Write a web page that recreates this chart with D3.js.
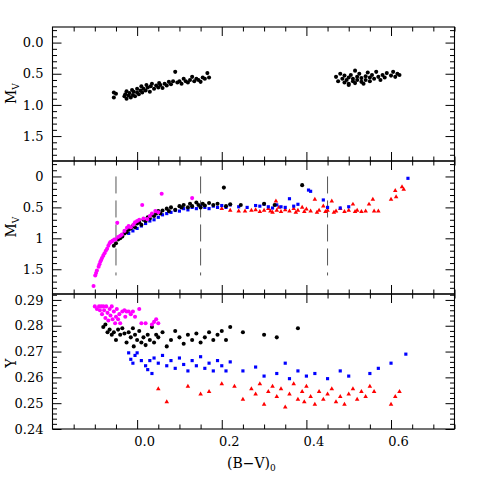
<!DOCTYPE html>
<html><head><meta charset="utf-8">
<script src="https://cdn.jsdelivr.net/npm/d3@7"></script>
<style>body{margin:0;background:#fff}svg{display:block}</style>
</head><body><svg id="c" width="480" height="480"></svg>
<script>
// ---- data ----
const topBlack = [[-0.055,0.80],[-0.055,0.88],[-0.05,0.82],[-0.03,0.86],[-0.028,0.83],[-0.025,0.90],[-0.025,0.78],[-0.02,0.85],[-0.018,0.81],[-0.015,0.88],[-0.012,0.76],[-0.01,0.84],[-0.008,0.79],[-0.005,0.86],[0.0,0.80],[0.0,0.74],[0.004,0.83],[0.008,0.77],[0.01,0.70],[0.012,0.80],[0.015,0.74],[0.02,0.77],[0.022,0.68],[0.025,0.72],[0.03,0.79],[0.032,0.70],[0.035,0.66],[0.04,0.74],[0.045,0.69],[0.05,0.72],[0.052,0.65],[0.055,0.68],[0.06,0.73],[0.065,0.66],[0.07,0.69],[0.075,0.63],[0.08,0.67],[0.085,0.62],[0.09,0.47],[0.095,0.64],[0.1,0.62],[0.105,0.66],[0.11,0.58],[0.115,0.62],[0.12,0.64],[0.125,0.60],[0.13,0.55],[0.135,0.62],[0.14,0.58],[0.145,0.60],[0.15,0.63],[0.155,0.56],[0.16,0.58],[0.166,0.49],[0.17,0.56]];
const topBlackRight = [[0.47,0.55],[0.475,0.62],[0.48,0.50],[0.485,0.58],[0.49,0.64],[0.49,0.53],[0.495,0.60],[0.50,0.56],[0.50,0.66],[0.505,0.52],[0.51,0.62],[0.51,0.58],[0.515,0.65],[0.52,0.55],[0.52,0.60],[0.525,0.50],[0.53,0.63],[0.53,0.57],[0.535,0.66],[0.54,0.54],[0.54,0.60],[0.545,0.48],[0.55,0.62],[0.55,0.56],[0.555,0.52],[0.56,0.58],[0.565,0.47],[0.57,0.55],[0.575,0.60],[0.58,0.52],[0.585,0.56],[0.59,0.49],[0.60,0.53],[0.605,0.47],[0.61,0.55],[0.615,0.50],[0.62,0.52],[0.50,0.68],[0.515,0.45]];

const midMagenta = [[-0.103,1.77],[-0.099,1.60],[-0.097,1.56],[-0.095,1.52],[-0.091,1.46],[-0.089,1.42],[-0.087,1.38],[-0.085,1.35],[-0.083,1.32],[-0.08,1.28],[-0.077,1.24],[-0.074,1.20],[-0.071,1.17],[-0.068,1.12],[-0.065,1.08],[-0.063,1.06],[-0.06,1.05],[-0.058,1.04],[-0.054,1.02],[-0.051,1.02],[-0.047,0.75],[-0.045,0.98],[-0.04,0.96],[-0.036,0.94],[-0.03,0.88],[-0.024,0.83],[-0.02,0.80],[-0.015,0.82],[-0.009,0.78],[-0.005,0.74],[0.0,0.72],[0.005,0.70],[0.012,0.46],[0.015,0.68],[0.024,0.69],[0.03,0.64],[0.035,0.60],[0.043,0.56],[0.05,0.58],[0.058,0.28],[0.13,0.35]];
const midBlack = [[-0.055,1.12],[-0.05,1.08],[-0.045,1.02],[-0.04,1.0],[-0.035,0.97],[-0.03,0.92],[-0.025,0.9],[-0.02,0.86],[-0.015,0.84],[-0.01,0.8],[-0.005,0.82],[0.0,0.76],[0.005,0.74],[0.01,0.78],[0.015,0.7],[0.02,0.72],[0.025,0.66],[0.03,0.68],[0.035,0.62],[0.04,0.64],[0.045,0.6],[0.05,0.56],[0.055,0.6],[0.06,0.55],[0.07,0.52],[0.075,0.56],[0.08,0.5],[0.09,0.54],[0.1,0.48],[0.105,0.5],[0.11,0.46],[0.12,0.5],[0.125,0.44],[0.13,0.48],[0.14,0.42],[0.145,0.46],[0.15,0.5],[0.155,0.44],[0.16,0.47],[0.17,0.43],[0.18,0.46],[0.19,0.44],[0.205,0.18],[0.21,0.48],[0.22,0.45],[0.245,0.46],[0.30,0.44],[0.325,0.46],[0.39,0.14]];
const midBlue = [[-0.02,0.92],[-0.01,0.88],[0.0,0.84],[0.01,0.8],[0.02,0.76],[0.03,0.72],[0.04,0.7],[0.05,0.66],[0.06,0.62],[0.07,0.6],[0.08,0.58],[0.09,0.55],[0.1,0.56],[0.11,0.52],[0.12,0.54],[0.13,0.5],[0.14,0.52],[0.15,0.48],[0.16,0.5],[0.17,0.52],[0.18,0.48],[0.19,0.5],[0.2,0.47],[0.21,0.5],[0.22,0.46],[0.24,0.49],[0.26,0.5],[0.28,0.47],[0.29,0.48],[0.30,0.45],[0.31,0.49],[0.32,0.51],[0.33,0.46],[0.34,0.49],[0.35,0.50],[0.36,0.36],[0.37,0.48],[0.38,0.45],[0.405,0.22],[0.41,0.24],[0.44,0.38],[0.45,0.50],[0.48,0.51],[0.50,0.49],[0.64,0.03]];
const midRed = [[0.2,0.52],[0.22,0.55],[0.24,0.56],[0.255,0.56],[0.27,0.55],[0.28,0.54],[0.29,0.57],[0.30,0.55],[0.31,0.52],[0.315,0.56],[0.32,0.58],[0.328,0.40],[0.33,0.55],[0.335,0.5],[0.34,0.57],[0.35,0.54],[0.36,0.56],[0.37,0.52],[0.375,0.58],[0.38,0.55],[0.39,0.5],[0.395,0.57],[0.40,0.53],[0.41,0.56],[0.42,0.37],[0.425,0.58],[0.43,0.55],[0.44,0.48],[0.445,0.57],[0.45,0.55],[0.46,0.40],[0.465,0.58],[0.47,0.56],[0.48,0.52],[0.49,0.57],[0.50,0.55],[0.51,0.45],[0.515,0.57],[0.52,0.55],[0.53,0.57],[0.54,0.56],[0.548,0.45],[0.557,0.37],[0.56,0.56],[0.57,0.56],[0.60,0.37],[0.61,0.23],[0.612,0.33],[0.626,0.17],[0.63,0.21]];

const botMagenta = [[-0.10,0.2875],[-0.095,0.2865],[-0.09,0.2875],[-0.088,0.286],[-0.085,0.2875],[-0.083,0.2845],[-0.08,0.2875],[-0.078,0.286],[-0.075,0.283],[-0.073,0.2875],[-0.07,0.285],[-0.068,0.282],[-0.065,0.2865],[-0.063,0.284],[-0.06,0.2875],[-0.058,0.2825],[-0.055,0.2855],[-0.052,0.281],[-0.05,0.2835],[-0.048,0.2865],[-0.045,0.2825],[-0.042,0.2845],[-0.04,0.281],[-0.035,0.2855],[-0.03,0.286],[-0.028,0.2835],[-0.025,0.2855],[-0.02,0.2855],[-0.015,0.2845],[-0.01,0.2855],[-0.005,0.2835],[0.005,0.2865],[0.01,0.281],[0.02,0.281],[0.035,0.2805],[0.04,0.2815],[0.045,0.2825],[0.05,0.281]];
const botBlack = [[-0.08,0.2795],[-0.075,0.2805],[-0.07,0.2775],[-0.065,0.2785],[-0.06,0.2765],[-0.055,0.2775],[-0.05,0.2745],[-0.045,0.2785],[-0.04,0.2765],[-0.035,0.279],[-0.03,0.277],[-0.025,0.2735],[-0.02,0.2775],[-0.015,0.2755],[-0.01,0.279],[-0.008,0.272],[-0.005,0.2765],[0.0,0.2745],[0.005,0.278],[0.01,0.2735],[0.015,0.2755],[0.02,0.2725],[0.025,0.2765],[0.03,0.2745],[0.035,0.2795],[0.04,0.2735],[0.045,0.2765],[0.05,0.2755],[0.06,0.2775],[0.07,0.272],[0.08,0.2745],[0.09,0.278],[0.1,0.2755],[0.11,0.273],[0.12,0.2765],[0.13,0.2745],[0.14,0.277],[0.15,0.2735],[0.16,0.2755],[0.17,0.2775],[0.18,0.2745],[0.19,0.2765],[0.2,0.278],[0.21,0.2745],[0.22,0.2795],[0.25,0.2775],[0.3,0.2765],[0.33,0.2755],[0.38,0.279]];
const botBlue = [[-0.02,0.2695],[-0.015,0.267],[-0.01,0.2655],[-0.005,0.2685],[0.0,0.2695],[0.01,0.2665],[0.02,0.2645],[0.025,0.263],[0.03,0.2665],[0.035,0.2615],[0.04,0.2675],[0.05,0.2655],[0.06,0.2685],[0.07,0.2645],[0.08,0.2665],[0.09,0.2635],[0.1,0.2675],[0.11,0.265],[0.12,0.2625],[0.13,0.2665],[0.14,0.2645],[0.15,0.268],[0.16,0.2635],[0.17,0.2655],[0.18,0.2625],[0.19,0.2665],[0.2,0.2645],[0.21,0.2625],[0.22,0.266],[0.25,0.2625],[0.28,0.264],[0.3,0.2605],[0.33,0.2615],[0.35,0.2655],[0.36,0.2595],[0.38,0.2625],[0.4,0.2605],[0.42,0.2615],[0.45,0.2595],[0.48,0.2625],[0.5,0.2605],[0.55,0.2615],[0.57,0.2635],[0.6,0.2655],[0.635,0.269]];
const botRed = [[0.05,0.2555],[0.07,0.2505],[0.12,0.2565],[0.15,0.2535],[0.17,0.2545],[0.2,0.2575],[0.23,0.2565],[0.25,0.2515],[0.27,0.2555],[0.28,0.2535],[0.29,0.2575],[0.3,0.2495],[0.31,0.2545],[0.32,0.2565],[0.33,0.2525],[0.34,0.2555],[0.35,0.2485],[0.36,0.2535],[0.37,0.2575],[0.38,0.2515],[0.39,0.2545],[0.395,0.2505],[0.40,0.2565],[0.41,0.2525],[0.42,0.2495],[0.43,0.2545],[0.44,0.2515],[0.45,0.2535],[0.46,0.2555],[0.47,0.2505],[0.48,0.2525],[0.49,0.2495],[0.5,0.2535],[0.51,0.2555],[0.52,0.2515],[0.53,0.2545],[0.54,0.2525],[0.55,0.2565],[0.56,0.2545],[0.6,0.2495],[0.61,0.2525],[0.62,0.2545]];

const dashedBV = [-0.05, 0.15, 0.45];
const xMajor = [0.0, 0.2, 0.4, 0.6];
const xTickLabels = ["0.0", "0.2", "0.4", "0.6"];
const mvMajor = [0.0, 0.5, 1.0, 1.5];
const mvTopLabels = ["0.0", "0.5", "1.0", "1.5"];
const mvMidLabels = ["0", "0.5", "1", "1.5"];
const yMajor = [0.24, 0.25, 0.26, 0.27, 0.28, 0.29];
const yLabels = ["0.24", "0.25", "0.26", "0.27", "0.28", "0.29"];

// ---- layout ----
const svg = d3.select("#c");
const L = 52.5, R = 454.5;
const FONT = "DejaVu Serif";
const x = d3.scaleLinear().domain([-0.2, 0.75]).range([L, R]);
const yTop = d3.scaleLinear().domain([-0.25, 1.9]).range([27, 161]);
const yMid = d3.scaleLinear().domain([-0.25, 1.9]).range([161, 294]);
const yBot = d3.scaleLinear().domain([0.24, 0.2923]).range([429, 294]);

const near = (a, b) => Math.abs(a - b) < 1e-6;
const xMinor = d3.range(-0.15, 0.751, 0.05).map(v => +v.toFixed(3)).filter(v => !xMajor.some(m => near(m, v)));
const mvMinor = d3.range(-0.2, 1.9, 0.1).map(v => +v.toFixed(3)).filter(v => !mvMajor.some(m => near(m, v)));
const yMinor = d3.range(0.242, 0.2923, 0.002).map(v => +v.toFixed(4)).filter(v => !yMajor.some(m => near(m, v)));

function frame(y, yMaj, yMin) {
  const b = d3.max(y.range()), t = d3.min(y.range());
  const g = svg.append("g");
  const mk = (axis, tr) => {
    const a = g.append("g").attr("transform", tr).call(axis);
    a.selectAll("text").remove();
    a.select(".domain").remove();
    a.selectAll("line").attr("stroke", "#000").attr("stroke-width", 1);
  };
  [[9, xMajor], [4.5, xMinor]].forEach(([s, v]) => {
    mk(d3.axisBottom(x).tickValues(v).tickSize(-s), `translate(0,${b})`);
    mk(d3.axisTop(x).tickValues(v).tickSize(-s), `translate(0,${t})`);
  });
  [[9, yMaj], [4.5, yMin]].forEach(([s, v]) => {
    mk(d3.axisLeft(y).tickValues(v).tickSize(-s), `translate(${L},0)`);
    mk(d3.axisRight(y).tickValues(v).tickSize(-s), `translate(${R},0)`);
  });
  g.append("rect").attr("x", L).attr("y", t).attr("width", R - L).attr("height", b - t)
    .attr("fill", "none").attr("stroke", "#000").attr("stroke-width", 1.1);
}

function yLabelsAxis(y, vals, labels) {
  const a = svg.append("g").attr("transform", `translate(${L},0)`)
    .call(d3.axisLeft(y).tickValues(vals).tickSize(0).tickPadding(9).tickFormat((d, i) => labels[i]));
  a.select(".domain").remove();
  a.selectAll("text").attr("font-family", FONT).attr("font-size", 13).attr("fill", "#000");
}

frame(yTop, mvMajor, mvMinor);
frame(yMid, mvMajor, mvMinor);
frame(yBot, yMajor, yMinor);
yLabelsAxis(yTop, mvMajor, mvTopLabels);
yLabelsAxis(yMid, mvMajor, mvMidLabels);
yLabelsAxis(yBot, yMajor, yLabels);

const xa = svg.append("g").attr("transform", `translate(0,429)`)
  .call(d3.axisBottom(x).tickValues(xMajor).tickSize(0).tickPadding(8).tickFormat((d, i) => xTickLabels[i]));
xa.select(".domain").remove();
xa.selectAll("text").attr("font-family", FONT).attr("font-size", 13).attr("fill", "#000").attr("dx", 7);

// dashed lines
svg.append("g").selectAll("line").data(dashedBV).join("line")
  .attr("x1", d => x(d)).attr("x2", d => x(d))
  .attr("y1", yMid(0)).attr("y2", yMid(1.6))
  .attr("stroke", "#555").attr("stroke-width", 1).attr("stroke-dasharray", "17,7");

// markers
function pts(data, y, color, type, size) {
  const sym = d3.symbol().type(type).size(size);
  svg.append("g").selectAll("path").data(data).join("path")
    .attr("d", sym)
    .attr("transform", d => `translate(${x(d[0])},${y(d[1])})`)
    .attr("fill", color);
}
const C = d3.symbolCircle, S = d3.symbolSquare, T = d3.symbolTriangle;
pts(topBlack, yTop, "#000", C, 13);
pts(topBlackRight, yTop, "#000", C, 13);
pts(midRed, yMid, "#ff0000", T, 9);
pts(midBlue, yMid, "#0000ff", S, 10);
pts(midBlack, yMid, "#000", C, 13);
pts(midMagenta, yMid, "#ff00ff", C, 13);
pts(botRed, yBot, "#ff0000", T, 9);
pts(botBlue, yBot, "#0000ff", S, 10);
pts(botBlack, yBot, "#000", C, 13);
pts(botMagenta, yBot, "#ff00ff", C, 13);

// axis titles
function mvTitle(cy) {
  const t = svg.append("text").attr("transform", `translate(16,${cy}) rotate(-90)`)
    .attr("text-anchor", "middle").attr("font-family", FONT).attr("font-size", 14).attr("fill", "#000");
  t.append("tspan").text("M");
  t.append("tspan").attr("font-size", 9).attr("dy", 3).text("V");
}
mvTitle(yTop(0.82));
mvTitle(yMid(0.82));
svg.append("text").attr("transform", `translate(16,${yBot(0.2655)}) rotate(-90)`)
  .attr("text-anchor", "middle").attr("font-family", FONT).attr("font-size", 14).text("Y");
const xt = svg.append("text").attr("x", x(0.27)).attr("y", 468)
  .attr("text-anchor", "middle").attr("font-family", FONT).attr("font-size", 14);
xt.append("tspan").text("(B−V)");
xt.append("tspan").attr("font-size", 9).attr("dy", 3).text("0");
</script></body></html>
